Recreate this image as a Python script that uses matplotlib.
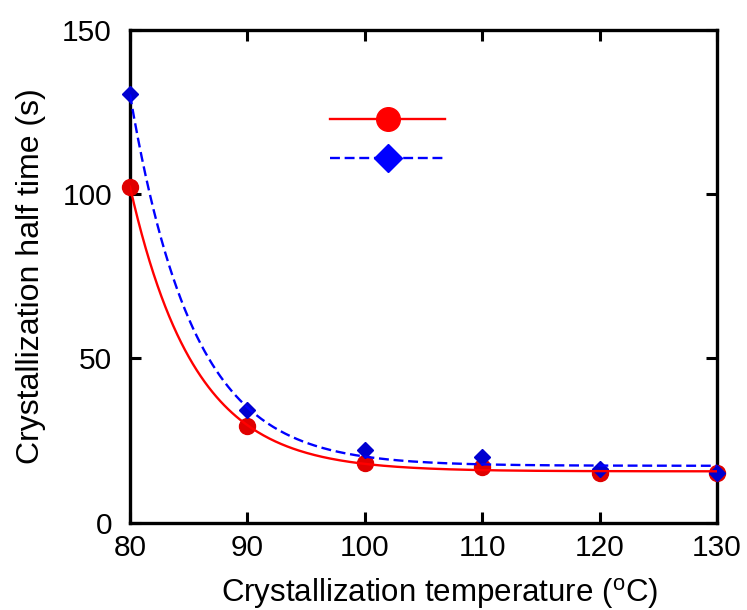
import numpy as np
import matplotlib
matplotlib.use("Agg")
import matplotlib.pyplot as plt

plt.rcParams['font.family'] = ['Liberation Sans', 'DejaVu Sans']

# measured half times
temps = [80, 90, 100, 110, 120, 130]
t_half_a = [102.3, 29.5, 18.3, 17.0, 15.1, 15.1]
t_half_b = [130.4, 34.4, 22.0, 20.0, 16.3, 15.1]


def fit_decay(x, y):
    # y = c + A*exp(-k*(x - x0)); least squares, A solved for each (c, k) on a grid
    x = np.asarray(x, float)
    y = np.asarray(y, float)
    best = None
    for c in np.linspace(10, y.min() + 3, 150):
        for k in np.linspace(0.05, 0.5, 451):
            e = np.exp(-k * (x - x[0]))
            A = np.sum(e * (y - c)) / np.sum(e * e)
            err = np.sum((c + A * e - y) ** 2)
            if best is None or err < best[0]:
                best = (err, c, k, A)
    _, c, k, A = best
    xs = np.linspace(x[0], x[-1], 300)
    return xs, c + A * np.exp(-k * (xs - x[0]))


fig = plt.figure(figsize=(7.47, 6.10), dpi=100)
ax = fig.add_axes([0.174, 0.143, 0.786, 0.808])

xa, ya = fit_decay(temps, t_half_a)
xb, yb = fit_decay(temps, t_half_b)

ax.plot(temps, t_half_a, 'o', color='#e00000', ms=11.5, zorder=3, clip_on=False)
ax.plot(temps, t_half_b, 'D', color='#0000d0', ms=8, zorder=4, clip_on=False)
ax.plot(xa, ya, '-', color='red', lw=1.7, zorder=5)
ax.plot(xb, yb, '--', color='blue', lw=1.7, dashes=(4.2, 2), zorder=5)

h1, = ax.plot([], [], '-o', color='red', ms=17, lw=1.7)
h2, = ax.plot([], [], '--D', color='blue', ms=14, lw=1.7, dashes=(4.2, 2))
ax.legend([h1, h2], ['', ''], loc='upper left', bbox_to_anchor=(0.304, 0.881),
          frameon=False, handlelength=4.9, labelspacing=0.75, fontsize=17,
          handletextpad=0)

ax.set_xlim(80, 130)
ax.set_ylim(0, 150)
ax.set_xticks([80, 90, 100, 110, 120, 130])
ax.set_yticks([0, 50, 100, 150])
ax.tick_params(direction='in', length=8, width=2.2, labelsize=21.5,
               top=True, right=True, pad=8)
ax.tick_params(axis='y', pad=13)
for s in ax.spines.values():
    s.set_linewidth(2.4)

ax.set_xlabel('Crystallization temperature ($\\mathregular{^o}$C)', fontsize=22.5)
ax.xaxis.set_label_coords(0.528, -0.107)
ax.set_ylabel('Crystallization half time (s)', fontsize=23, labelpad=12)

fig.savefig('out.png', dpi=100)
